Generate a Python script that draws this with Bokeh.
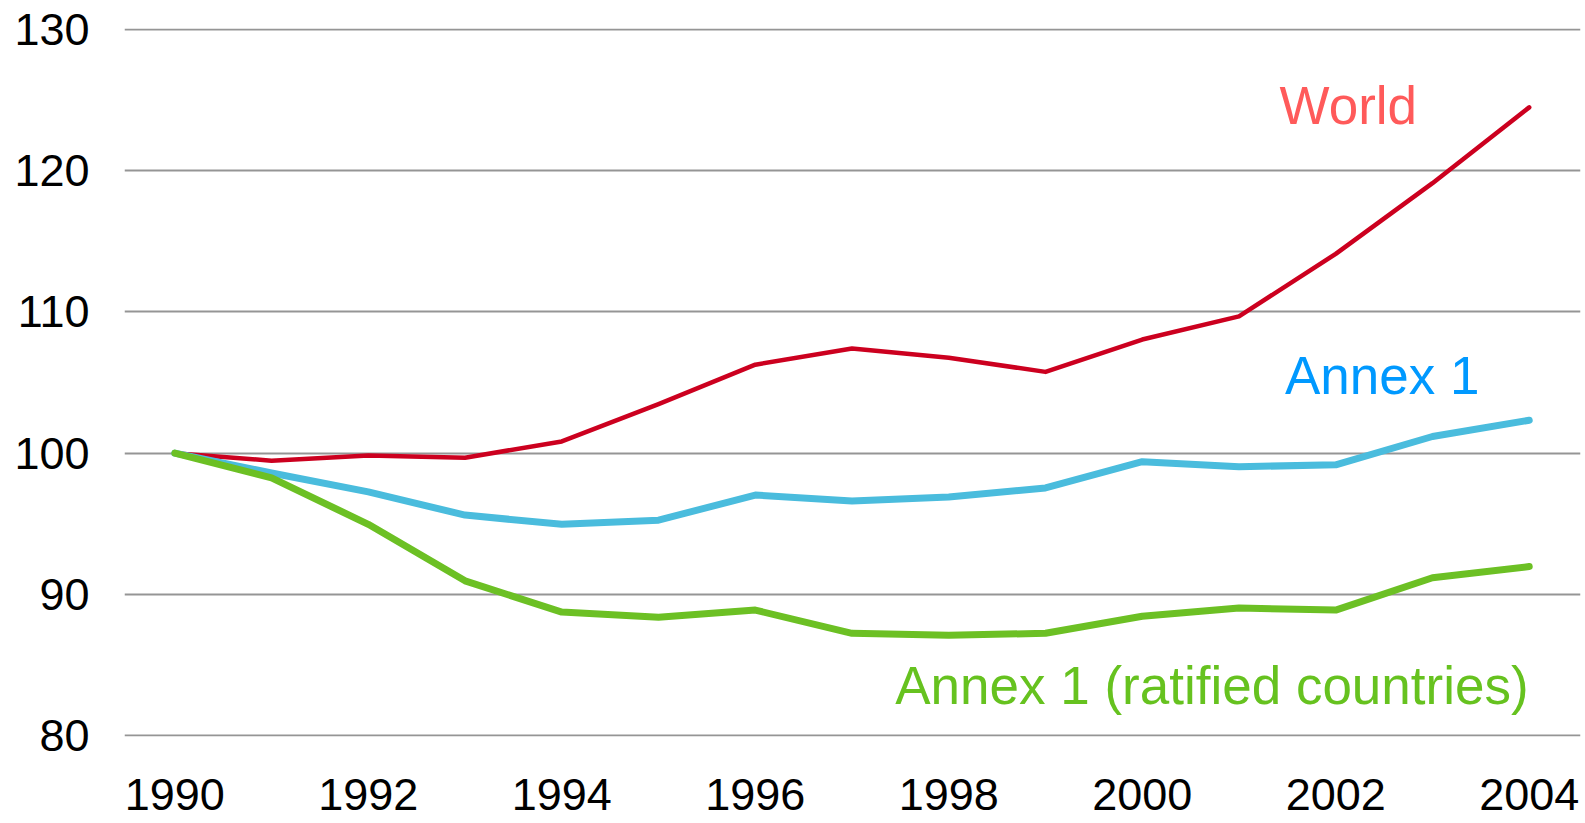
from bokeh.plotting import figure
from bokeh.models import Range1d, FixedTicker, ColumnDataSource
from bokeh.embed import file_html
from bokeh.resources import INLINE
from bokeh.core.properties import value

years = list(range(1990, 2005))
world = [100.0, 99.47, 99.83, 99.68, 100.83, 103.47, 106.26, 107.4, 106.75, 105.75,
         108.04, 109.68, 114.1, 119.1, 124.46]
annex1 = [100.0, 98.6, 97.26, 95.62, 94.97, 95.26, 97.04, 96.61, 96.9, 97.54,
          99.4, 99.04, 99.18, 101.18, 102.33]
annex1_ratified = [100.0, 98.25, 94.97, 90.97, 88.76, 88.4, 88.9, 87.26, 87.12, 87.26,
                   88.47, 89.05, 88.9, 91.19, 91.98]
series_names = ["World", "Annex 1", "Annex 1 (ratified countries)"]
y_ticks = [80, 90, 100, 110, 120, 130]
x_ticks = [1990, 1992, 1994, 1996, 1998, 2000, 2002, 2004]

FONT = "Liberation Sans"

p = figure(width=1582, height=823, output_backend="svg", toolbar_location=None,
           x_range=Range1d(1989.48, 2004.53), y_range=Range1d(79.96, 130.04),
           min_border_left=124, min_border_right=2, min_border_top=28, min_border_bottom=87)
p.outline_line_color = None
p.background_fill_color = "white"
p.border_fill_color = "white"

# grid
p.xgrid.grid_line_color = None
p.ygrid.grid_line_color = "#959595"
p.ygrid.grid_line_width = 2
p.ygrid.ticker = FixedTicker(ticks=y_ticks)

for ax in (p.xaxis[0], p.yaxis[0]):
    ax.axis_line_color = None
    ax.major_tick_line_color = None
    ax.minor_tick_line_color = None
    ax.major_tick_out = 0
    ax.major_tick_in = 0
    ax.major_label_text_font = FONT
    ax.major_label_text_font_size = "45px"
    ax.major_label_text_color = "black"

p.yaxis.ticker = FixedTicker(ticks=y_ticks)
p.yaxis.major_label_standoff = 35
p.xaxis.ticker = FixedTicker(ticks=x_ticks)
p.xaxis.major_label_standoff = 42

p.line(years, world, line_color="#cc001f", line_width=4.5, line_cap="round", line_join="round")
p.line(years, annex1, line_color="#4abcdd", line_width=7, line_cap="round", line_join="round")
p.line(years, annex1_ratified, line_color="#6cc024", line_width=7, line_cap="round", line_join="round")

# series labels
lab = ColumnDataSource(dict(
    x=[2002.13, 2002.48, 2000.72],
    y=[124.6, 105.5, 83.6],
    t=series_names,
    c=["#ff5a5a", "#0099ff", "#66c21f"],
))
p.text(x="x", y="y", text="t", text_color="c", source=lab,
       text_align="center", text_baseline="alphabetic",
       text_font=value(FONT), text_font_size="53px")

open("out.html", "w").write(file_html(p, INLINE))
